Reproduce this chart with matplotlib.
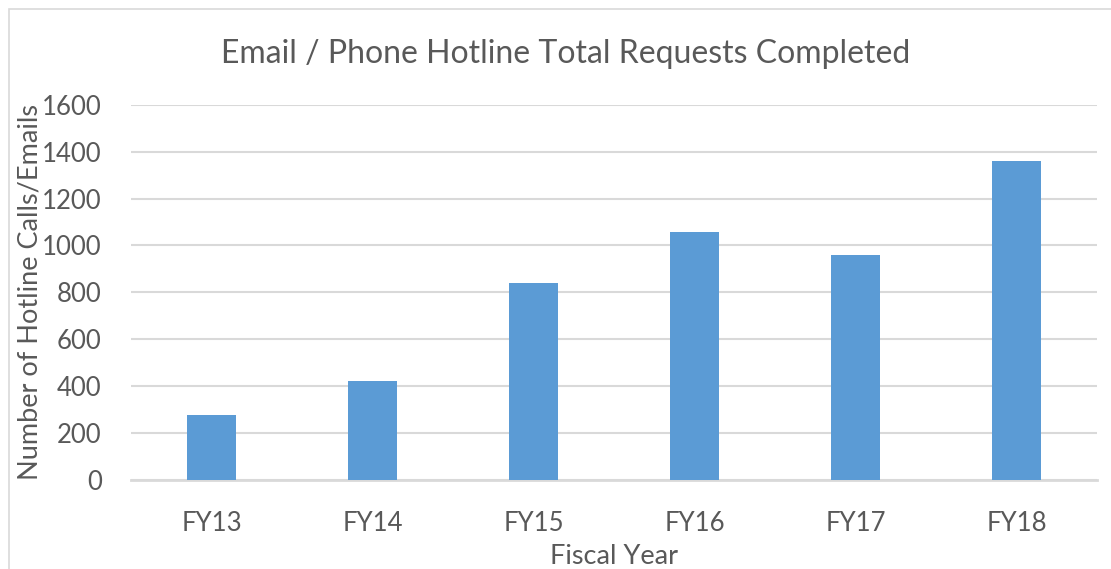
import matplotlib
matplotlib.use("Agg")
import matplotlib.pyplot as plt
from matplotlib.patches import Rectangle

categories = ["FY13", "FY14", "FY15", "FY16", "FY17", "FY18"]
values = [276, 420, 841, 1058, 959, 1362]
yticks = [0, 200, 400, 600, 800, 1000, 1200, 1400, 1600]

title = "Email / Phone Hotline Total Requests Completed"
xlabel = "Fiscal Year"
ylabel = "Number of Hotline Calls/Emails"

W, H = 1111, 569
fig = plt.figure(figsize=(W / 100, H / 100), dpi=100)
plt.rcParams['font.family'] = ['Lato', 'DejaVu Sans']
txt = '#595959'
grid = '#D9D9D9'

# outer chart border
fig.patches.append(Rectangle((9 / W, -0.1), 1.2, (H - 9) / H + 0.1, transform=fig.transFigure,
                             fill=False, edgecolor=grid, linewidth=1.2))

ax = fig.add_axes([131 / W, 1 - 480 / H, (1097 - 131) / W, (480 - 104.7) / H])
x = list(range(len(categories)))
ax.bar(x, values, width=0.31, color='#5B9BD5', zorder=3)
ax.set_xlim(-0.5, len(categories) - 0.5)
ax.set_ylim(0, 1600)
ax.set_yticks(yticks)
ax.set_yticklabels([str(v) for v in yticks])
ax.set_xticks(x)
ax.set_xticklabels(categories)
ax.tick_params(axis='both', length=0, labelsize=18.5, colors=txt)
ax.tick_params(axis='y', pad=21)
ax.tick_params(axis='x', pad=22)
for s in ['top', 'right', 'left']:
    ax.spines[s].set_visible(False)
ax.spines['bottom'].set_color(grid)
ax.spines['bottom'].set_linewidth(2)
ax.yaxis.grid(True, color=grid, linewidth=1.5, zorder=0)
ax.set_axisbelow(True)

ax.set_xlabel(xlabel, fontsize=19.5, color=txt, labelpad=6)
ax.set_ylabel(ylabel, fontsize=19.5, color=txt, labelpad=0)
fig.text(566 / W, 1 - 54 / H, title, ha='center', va='center', fontsize=23, color=txt)

fig.savefig("out.png", dpi=100)
